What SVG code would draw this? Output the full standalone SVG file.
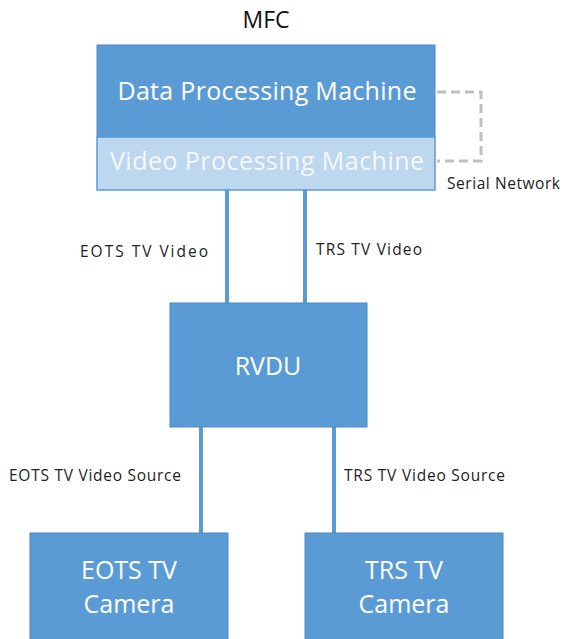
<svg xmlns="http://www.w3.org/2000/svg" width="562" height="639" viewBox="0 0 562 639">
<style>
.box{fill:#5b9bd5;stroke:#4f88c0;stroke-width:1}
.lt{fill:#bdd7ee;stroke:#5b9bd5;stroke-width:1.5}
.wt{font-family:"Open Sans","Liberation Sans",sans-serif;fill:#fff;text-anchor:middle;font-size:25px}
.lbl{font-family:"Open Sans","Liberation Sans",sans-serif;fill:#222;font-size:15.5px}
.conn{stroke:#5b9bd5;stroke-width:4;fill:none}
</style>
<rect width="562" height="639" fill="#fff"/>
<text x="266" y="28" font-family="Open Sans, Liberation Sans, sans-serif" font-size="23" text-anchor="middle" fill="#111">MFC</text>
<g id="connectors">
<line class="conn" x1="227" y1="190" x2="227" y2="303"/>
<line class="conn" x1="305" y1="190" x2="305" y2="303"/>
<line class="conn" x1="201" y1="427" x2="201" y2="533"/>
<line class="conn" x1="334" y1="427" x2="334" y2="533"/>
<polyline points="437,92 481,92 481,161 437,161" fill="none" stroke="#bfbfbf" stroke-width="3" stroke-dasharray="9,5"/>
<text class="lbl" x="80" y="257" textLength="128">EOTS TV Video</text>
<text class="lbl" x="316" y="255" textLength="106">TRS TV Video</text>
<text class="lbl" x="447" y="189" textLength="113">Serial Network</text>
<text class="lbl" x="9" y="481" textLength="172">EOTS TV Video Source</text>
<text class="lbl" x="344" y="481" textLength="161">TRS TV Video Source</text>
</g>
<g id="data-processing">
<rect class="box" x="97" y="45" width="338" height="92"/>
<text class="wt" x="267" y="100" textLength="299">Data Processing Machine</text>
</g>
<g id="video-processing">
<rect class="lt" x="97" y="137" width="338" height="53"/>
<text class="wt" x="267" y="170" textLength="314" fill-opacity="0.85">Video Processing Machine</text>
</g>
<g id="rvdu">
<rect class="box" x="170" y="303" width="197" height="124"/>
<text class="wt" x="268" y="375">RVDU</text>
</g>
<g id="eots-camera">
<rect class="box" x="30" y="533" width="198" height="110"/>
<text class="wt" x="129" y="579">EOTS TV</text>
<text class="wt" x="129" y="613">Camera</text>
</g>
<g id="trs-camera">
<rect class="box" x="305" y="533" width="198" height="110"/>
<text class="wt" x="404" y="579">TRS TV</text>
<text class="wt" x="404" y="613">Camera</text>
</g>
</svg>
